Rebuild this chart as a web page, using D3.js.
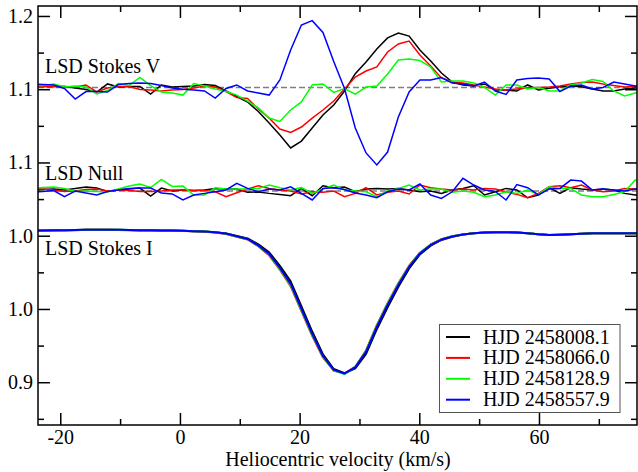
<!DOCTYPE html>
<html><head><meta charset="utf-8">
<script src="https://cdn.jsdelivr.net/npm/d3@7"></script>
<style>
body{margin:0;background:#fff;}
svg{display:block;}
</style>
</head><body>
<svg id="chart" width="638" height="472"></svg>
<script>
// ---- data ----
const velocity = [-24.7,-22.9,-21.1,-19.3,-17.5,-15.7,-13.9,-12.1,-10.3,-8.5,-6.7,-4.9,-3.1,-1.3,0.5,2.3,4.1,5.9,7.7,9.5,11.3,13.1,14.9,16.7,18.5,20.3,22.1,23.9,25.7,27.5,29.3,31.1,32.9,34.7,36.5,38.3,40.1,41.9,43.7,45.5,47.3,49.1,50.9,52.7,54.5,56.3,58.1,59.9,61.7,63.5,65.3,67.1,68.9,70.7,72.5,74.3,76.1,77.9];
const dates = ["HJD 2458008.1","HJD 2458066.0","HJD 2458128.9","HJD 2458557.9"];
const colors = ["#000000","#ff0000","#00ff00","#0000ff"];

// Stokes V (units of 1e-3, plotted around vOffset)
const stokesV_8008 = [0.8,0.8,0.8,0.8,-0.3,-1.3,-3.0,2.5,0.4,0.8,0.8,-4.4,1.8,0.4,0.8,1.1,2.1,1.4,-2.3,-6.1,-9.8,-16.3,-24.2,-32.4,-41.2,-36.5,-27.6,-18.7,-11.9,-2.3,9.5,17.5,26.3,33.9,37.3,35.2,25.7,18.2,10.0,3.8,1.8,1.1,2.5,-1.6,-1.6,-2.3,1.8,-1.6,-0.5,0.6,1.1,0.6,-1.0,-2.3,-2.3,-1.0,-0.3,-0.3];
const stokesV_8066 = [0.8,0.8,0.8,0.8,0.4,1.8,-3.0,-0.3,0.8,0.8,-1.3,-1.6,-2.3,-1.6,-1.3,-0.3,1.1,0.4,-2.7,-6.8,-7.4,-14.6,-20.8,-28.3,-30.6,-26.9,-20.8,-15.3,-9.2,-1.0,7.2,11.3,14.1,24.3,29.8,31.8,22.3,14.7,6.6,3.8,3.1,1.8,0.4,-1.0,-1.6,-1.0,-0.3,0.1,0.4,1.1,2.5,3.5,3.8,2.5,1.4,0.4,0.8,0.8];
const stokesV_8128 = [1.4,1.4,2.5,0.4,1.1,0.4,-4.4,-2.0,2.8,1.4,6.9,1.4,-3.0,-3.7,-5.1,2.8,1.1,-1.0,-2.7,-5.1,-9.2,-13.9,-20.8,-23.1,-15.3,-9.8,1.8,2.5,-3.3,-0.6,-4.4,0.4,1.1,9.3,18.8,19.5,18.5,14.1,3.8,4.5,4.5,3.1,0.1,-5.1,1.8,1.8,-1.0,0.1,-2.3,-2.3,1.8,3.1,5.5,4.2,-2.3,-5.7,-3.7,-3.0];
const stokesV_8557 = [2.5,2.1,1.8,-0.6,-7.8,-2.7,-2.7,-3.0,2.1,2.8,3.1,2.8,1.4,-0.3,-1.2,-1.6,-2.3,-7.1,-0.6,1.8,-2.3,-3.7,-5.1,5.2,25.7,42.7,45.7,37.6,17.8,-0.6,-27.6,-44.6,-52.8,-44.0,-20.1,-3.0,5.2,5.2,6.9,3.1,2.5,1.1,3.8,-2.3,-4.7,5.2,6.2,6.6,5.9,-2.7,1.1,1.8,-1.0,0.1,3.8,2.5,1.1,1.1];

// Null (units of 1e-3, plotted around nOffset)
const null_8008 = [0.7,1.0,1.4,0.7,1.7,2.7,2.0,-0.3,0.7,1.4,2.0,-3.4,2.0,0.0,0.7,0.3,0.7,1.8,1.4,1.4,-0.9,-0.7,-1.6,-2.3,-3.2,1.8,-3.2,3.6,2.3,2.7,-0.5,1.4,1.8,1.4,1.8,0.7,-0.5,0.0,-1.6,0.7,1.8,3.6,-2.7,-0.5,1.8,0.7,-4.6,-2.7,2.3,-1.6,2.3,1.4,0.7,1.4,0.7,-1.6,-2.7,-2.7];
const null_8066 = [1.8,1.4,0.7,-0.3,0.0,1.0,1.4,0.0,0.7,0.3,-0.3,-0.3,0.0,0.7,0.7,0.3,0.3,-0.5,-3.9,-1.2,1.4,3.6,1.8,0.7,0.0,-2.0,-0.5,-0.9,0.0,-3.8,-1.6,2.3,-2.7,-0.9,0.0,-2.0,4.1,2.3,1.4,0.7,1.4,0.7,1.7,1.4,-0.5,-2.3,-4.6,-1.6,2.9,3.6,2.3,4.1,0.7,-0.5,0.0,1.8,1.4,1.4];
const null_8128 = [1.7,2.4,2.7,1.7,-0.3,0.0,-0.3,-0.7,1.4,3.4,4.8,2.4,7.9,3.1,3.4,-2.7,-2.7,2.3,1.4,1.4,1.4,1.8,4.1,2.3,0.7,2.3,-1.6,1.4,4.1,0.7,0.0,-0.5,-3.9,0.0,1.8,4.1,0.7,1.4,1.4,-0.9,0.0,-0.9,-3.9,-2.7,-0.5,-1.6,0.7,-2.3,2.9,1.8,1.8,-2.7,-3.9,-3.9,-2.3,-0.5,7.5,8.9];
const null_8557 = [-0.7,-0.3,0.3,-3.8,0.0,-1.4,-2.7,-0.3,0.7,1.7,2.0,2.0,-1.4,-2.0,-6.1,-2.7,-1.6,-0.5,0.7,5.3,1.8,-0.5,1.4,0.7,2.9,-1.6,-6.1,1.8,2.3,1.0,-1.4,-2.7,-4.6,-0.5,1.4,0.7,4.8,-2.7,-5.0,-0.5,8.7,4.1,0.7,-0.3,-6.1,4.4,2.3,-2.7,1.4,1.8,7.5,6.8,0.7,1.4,0.7,0.0,1.4,1.4];

// Stokes I (as plotted)
const stokesI_8008 = [1.0536,1.0536,1.0537,1.0538,1.0539,1.0541,1.0541,1.0541,1.0540,1.0539,1.0537,1.0537,1.0536,1.0535,1.0534,1.0531,1.0528,1.0524,1.0515,1.0499,1.0482,1.0441,1.0387,1.0294,1.0188,1.0017,0.9846,0.9690,0.9590,0.9561,0.9595,0.9694,0.9862,1.0012,1.0151,1.0277,1.0372,1.0432,1.0471,1.0493,1.0509,1.0517,1.0522,1.0524,1.0524,1.0522,1.0517,1.0510,1.0505,1.0507,1.0510,1.0513,1.0516,1.0517,1.0517,1.0517,1.0517,1.0517];
const stokesI_8066 = [1.0535,1.0535,1.0536,1.0537,1.0538,1.0540,1.0540,1.0540,1.0539,1.0538,1.0536,1.0536,1.0535,1.0534,1.0533,1.0530,1.0527,1.0522,1.0512,1.0493,1.0474,1.0428,1.0366,1.0268,1.0156,0.9985,0.9816,0.9669,0.9579,0.9559,0.9606,0.9717,0.9890,1.0040,1.0175,1.0295,1.0384,1.0440,1.0476,1.0496,1.0509,1.0517,1.0522,1.0524,1.0524,1.0522,1.0517,1.0510,1.0505,1.0507,1.0510,1.0513,1.0516,1.0517,1.0517,1.0517,1.0517,1.0517];
const stokesI_8128 = [1.0536,1.0536,1.0537,1.0538,1.0539,1.0541,1.0541,1.0541,1.0540,1.0539,1.0537,1.0537,1.0536,1.0535,1.0534,1.0531,1.0528,1.0523,1.0513,1.0494,1.0476,1.0431,1.0371,1.0274,1.0163,0.9992,0.9822,0.9673,0.9581,0.9555,0.9604,0.9713,0.9884,1.0035,1.0171,1.0292,1.0382,1.0439,1.0475,1.0496,1.0509,1.0517,1.0522,1.0524,1.0524,1.0522,1.0517,1.0510,1.0505,1.0507,1.0510,1.0513,1.0516,1.0517,1.0517,1.0517,1.0517,1.0517];
const stokesI_8557 = [1.0536,1.0536,1.0537,1.0538,1.0539,1.0541,1.0541,1.0541,1.0540,1.0539,1.0537,1.0537,1.0536,1.0535,1.0534,1.0531,1.0528,1.0524,1.0515,1.0496,1.0478,1.0434,1.0376,1.0280,1.0171,1.0000,0.9830,0.9679,0.9584,0.9560,0.9601,0.9707,0.9877,1.0027,1.0164,1.0287,1.0379,1.0437,1.0474,1.0495,1.0509,1.0517,1.0522,1.0524,1.0524,1.0522,1.0517,1.0510,1.0505,1.0507,1.0510,1.0513,1.0516,1.0517,1.0517,1.0517,1.0517,1.0517];

const stokesVSeries = [stokesV_8008, stokesV_8066, stokesV_8128, stokesV_8557];
const nullSeries = [null_8008, null_8066, null_8128, null_8557];
const stokesISeries = [stokesI_8008, stokesI_8066, stokesI_8128, stokesI_8557];

const vOffset = 1.1511, nOffset = 1.0805, polUnit = 1e-3;
const panelLabels = ["LSD Stokes V","LSD Null","LSD Stokes I"];
const panelLabelLevels = [1.1611, 1.0880, 1.0370];

const xMajorTicks = [-20,0,20,40,60];
const xMinorTicks = [-10,10,30,50,70];
const yMajorTicks = [1.20,1.15,1.10,1.05,1.00,0.95];
const yTickLabels = ["1.2","1.1","1.1","1.0","1.0","0.9"];
const yMinorTicks = [1.175,1.125,1.075,1.025,0.975,0.925];
const xTitle = "Heliocentric velocity (km/s)";

// ---- layout ----
const FONT = "'Liberation Serif', 'DejaVu Serif', 'Times New Roman', Times, serif";
const FS = 20;
const L = 38, R = 637, T = 6, B = 425;
const svg = d3.select("#chart");
const x = d3.scaleLinear().domain([-23.72, 76.38]).range([L, R]);
const y = d3.scaleLinear().domain([0.9208, 1.2068]).range([B, T]);

svg.append("defs").append("clipPath").attr("id","clip")
  .append("rect").attr("x",L).attr("y",T).attr("width",R-L).attr("height",B-T);

const plot = svg.append("g").attr("clip-path","url(#clip)");

// zero lines
[vOffset, nOffset].forEach(lv => {
  plot.append("line").attr("x1",L).attr("x2",R).attr("y1",y(lv)).attr("y2",y(lv))
    .attr("stroke","#7f7f7f").attr("stroke-width",1.5).attr("stroke-dasharray","6,3");
});

const line = (off, unit) => d3.line().x((d,i)=>x(velocity[i])).y(d=>y(off + d*unit));

stokesISeries.forEach((s,k)=>{
  plot.append("path").datum(s).attr("d", line(0,1)).attr("fill","none")
    .attr("stroke",colors[k]).attr("stroke-width",2).attr("stroke-linejoin","round");
});
nullSeries.forEach((s,k)=>{
  plot.append("path").datum(s).attr("d", line(nOffset,polUnit)).attr("fill","none")
    .attr("stroke",colors[k]).attr("stroke-width",1.5);
});
stokesVSeries.forEach((s,k)=>{
  plot.append("path").datum(s).attr("d", line(vOffset,polUnit)).attr("fill","none")
    .attr("stroke",colors[k]).attr("stroke-width",1.5);
});

// panel labels
panelLabels.forEach((t,i)=>{
  svg.append("text").attr("x",45).attr("y",y(panelLabelLevels[i]))
    .attr("font-size",FS).attr("font-family",FONT).attr("fill","#000").text(t);
});

// axes
function styleAxis(g){
  g.attr("font-family",FONT);
  g.select(".domain").remove();
  g.selectAll(".tick line").attr("stroke","#000").attr("stroke-width",1.5);
  g.selectAll(".tick text").attr("font-size",FS).attr("font-family",FONT).attr("fill","#000");
}
svg.append("g").attr("transform",`translate(0,${B})`)
  .call(d3.axisBottom(x).tickValues(xMajorTicks).tickSizeInner(-12).tickSizeOuter(0).tickPadding(5).tickFormat(d=>String(d)))
  .call(styleAxis);
svg.append("g").attr("transform",`translate(0,${B})`)
  .call(d3.axisBottom(x).tickValues(xMinorTicks).tickSizeInner(-6).tickSizeOuter(0).tickFormat(""))
  .call(styleAxis);
svg.append("g").attr("transform",`translate(0,${T})`)
  .call(d3.axisTop(x).tickValues(xMajorTicks).tickSizeInner(-12).tickSizeOuter(0).tickFormat(""))
  .call(styleAxis);
svg.append("g").attr("transform",`translate(0,${T})`)
  .call(d3.axisTop(x).tickValues(xMinorTicks).tickSizeInner(-6).tickSizeOuter(0).tickFormat(""))
  .call(styleAxis);
svg.append("g").attr("transform",`translate(${L},0)`)
  .call(d3.axisLeft(y).tickValues(yMajorTicks).tickSizeInner(-12).tickSizeOuter(0).tickPadding(5).tickFormat((d,i)=>yTickLabels[i]))
  .call(styleAxis);
svg.append("g").attr("transform",`translate(${L},0)`)
  .call(d3.axisLeft(y).tickValues(yMinorTicks).tickSizeInner(-6).tickSizeOuter(0).tickFormat(""))
  .call(styleAxis);
svg.append("g").attr("transform",`translate(${R},0)`)
  .call(d3.axisRight(y).tickValues(yMajorTicks).tickSizeInner(-12).tickSizeOuter(0).tickFormat(""))
  .call(styleAxis);
svg.append("g").attr("transform",`translate(${R},0)`)
  .call(d3.axisRight(y).tickValues(yMinorTicks).tickSizeInner(-6).tickSizeOuter(0).tickFormat(""))
  .call(styleAxis);

// frame
svg.append("rect").attr("x",L).attr("y",T).attr("width",R-L).attr("height",B-T)
  .attr("fill","none").attr("stroke","#000").attr("stroke-width",1.5);

// x title
svg.append("text").attr("x",338).attr("y",466).attr("text-anchor","middle")
  .attr("font-size",FS).attr("font-family",FONT).attr("fill","#000").text(xTitle);

// legend
const lg = svg.append("g");
lg.append("rect").attr("x",439.5).attr("y",324.5).attr("width",180.5).attr("height",88)
  .attr("fill","#fff").attr("stroke","#555").attr("stroke-width",1);
dates.forEach((d,i)=>{
  const cy = 337 + i*20.9;
  lg.append("line").attr("x1",446).attr("x2",470).attr("y1",cy).attr("y2",cy)
    .attr("stroke",colors[i]).attr("stroke-width",2);
  lg.append("text").attr("x",483).attr("y",cy+6.5).attr("font-size",FS).attr("font-family",FONT).attr("fill","#000").text(d);
});
</script>
</body></html>
